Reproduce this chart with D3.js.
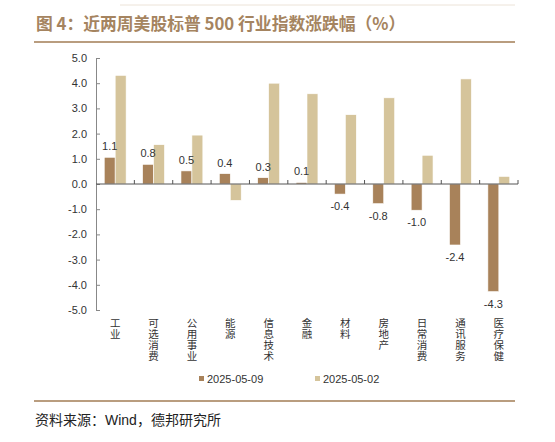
<!DOCTYPE html>
<html>
<head>
<meta charset="utf-8">
<script src="https://cdn.jsdelivr.net/npm/d3@7"></script>
<style>
  body { margin: 0; background: #fff; }
  svg { display: block; }
</style>
</head>
<body>
<div id="chart"></div>
<script>
// categories and values
var categories = ["工业", "可选消费", "公用事业", "能源", "信息技术", "金融", "材料", "房地产", "日常消费", "通讯服务", "医疗保健"];
var seriesNames = ["2025-05-09", "2025-05-02"];
var week0509 = [1.06, 0.78, 0.52, 0.41, 0.25, 0.06, -0.40, -0.78, -1.04, -2.42, -4.27];
var week0502 = [4.31, 1.56, 1.94, -0.65, 4.00, 3.58, 2.75, 3.42, 1.14, 4.17, 0.30];
var yTicks = [5, 4, 3, 2, 1, 0, -1, -2, -3, -4, -5];

var colors = ["#a8825a", "#d5c49b"];
var W = 555, H = 442;
var margin = { top: 58, left: 96, right: 37, bottom: 132 };

// hyphen instead of unicode minus, like the original
var fmt = function (v) { return d3.format(".1f")(v).replace("−", "-"); };

var svg = d3.select("#chart").append("svg")
    .attr("width", W)
    .attr("height", H);

// header
svg.append("text")
    .attr("x", 36).attr("y", 30)
    .attr("font-family", "Noto Sans CJK SC")
    .attr("font-weight", "bold")
    .attr("font-size", 16.8)
    .attr("fill", "#a58460")
    .text("图 4：近两周美股标普 500 行业指数涨跌幅（%）");

svg.append("line")
    .attr("x1", 120).attr("x2", 515).attr("y1", 5).attr("y2", 5)
    .attr("stroke", "#ece3d8").attr("stroke-width", 1);
svg.append("line")
    .attr("x1", 34).attr("x2", 515).attr("y1", 42).attr("y2", 42)
    .attr("stroke", "#a27c55").attr("stroke-width", 1.6);

var x = d3.scaleBand()
    .domain(categories)
    .range([margin.left, W - margin.right])
    .paddingInner(0.43)
    .paddingOuter(0.215);

var x1 = d3.scaleBand()
    .domain(seriesNames)
    .range([0, x.bandwidth()]);

var y = d3.scaleLinear()
    .domain([-5, 5])
    .range([H - margin.bottom, margin.top]);

// y axis
var yAxis = svg.append("g")
    .attr("transform", "translate(" + margin.left + ",0)")
    .call(d3.axisLeft(y).tickValues(yTicks).tickSize(-4).tickPadding(9)
        .tickFormat(fmt));
yAxis.select(".domain").attr("stroke", "#888");
yAxis.selectAll(".tick line").attr("stroke", "#888");
yAxis.selectAll("text")
    .attr("font-family", "Liberation Sans, Arial")
    .attr("font-size", 11)
    .attr("fill", "#333");

// bars
var rows = categories.map(function (c, i) {
    return { cat: c, vals: [week0509[i], week0502[i]] };
});

var groups = svg.append("g").selectAll("g")
    .data(rows)
    .join("g")
    .attr("transform", function (d) { return "translate(" + x(d.cat) + ",0)"; });

groups.selectAll("rect")
    .data(function (d) { return d.vals.map(function (v, j) { return { v: v, s: seriesNames[j], j: j }; }); })
    .join("rect")
    .attr("x", function (d) { return x1(d.s); })
    .attr("width", x1.bandwidth())
    .attr("y", function (d) { return y(Math.max(0, d.v)); })
    .attr("height", function (d) { return Math.abs(y(d.v) - y(0)); })
    .attr("fill", function (d) { return colors[d.j]; })
    .attr("stroke", "#fff")
    .attr("stroke-width", 0.6);

// labels on the 2025-05-09 series
groups.append("text")
    .attr("x", function (d) { return x1(seriesNames[0]) + x1.bandwidth() / 2; })
    .attr("y", function (d) { return d.vals[0] >= 0 ? y(d.vals[0]) - 7 : y(d.vals[0]) + 16; })
    .attr("text-anchor", "middle")
    .attr("font-family", "Liberation Sans, Arial")
    .attr("font-size", 11)
    .attr("fill", "#333")
    .text(function (d) { return fmt(d.vals[0]); });

// x axis on zero line, boundary ticks pointing up
svg.append("line")
    .attr("x1", margin.left).attr("x2", W - margin.right)
    .attr("y1", y(0)).attr("y2", y(0))
    .attr("stroke", "#555").attr("stroke-width", 1);

var bounds = categories.map(function (c) { return x(c) - x.step() * x.paddingInner() / 2; });
bounds.push(W - margin.right);
svg.append("g").selectAll("line")
    .data(bounds.slice(1))
    .join("line")
    .attr("x1", function (d) { return d; }).attr("x2", function (d) { return d; })
    .attr("y1", y(0)).attr("y2", y(0) - 4)
    .attr("stroke", "#555");

// vertical category labels
svg.append("g").selectAll("text")
    .data(categories)
    .join("text")
    .attr("x", function (d) { return x(d) + x.bandwidth() / 2; })
    .attr("y", 318)
    .attr("writing-mode", "vertical-rl")
    .attr("font-family", "Noto Sans CJK SC")
    .attr("font-size", 10.5)
    .attr("letter-spacing", 0.5)
    .attr("fill", "#333")
    .text(function (d) { return d; });

// legend
var legend = svg.append("g").selectAll("g")
    .data(seriesNames)
    .join("g")
    .attr("transform", function (d, i) { return "translate(" + (199 + i * 116) + ",376)"; });
legend.append("rect")
    .attr("width", 5).attr("height", 5)
    .attr("fill", function (d, i) { return colors[i]; });
legend.append("text")
    .attr("x", 8).attr("y", 7)
    .attr("font-family", "Liberation Sans, Arial")
    .attr("font-size", 11)
    .attr("fill", "#333")
    .text(function (d) { return d; });

// footer
svg.append("line")
    .attr("x1", 34).attr("x2", 515).attr("y1", 401).attr("y2", 401)
    .attr("stroke", "#a27c55").attr("stroke-width", 1.4);

var src = svg.append("text")
    .attr("x", 35).attr("y", 425)
    .attr("font-size", 14)
    .attr("fill", "#222");
src.append("tspan").attr("font-family", "Noto Sans CJK SC").text("资料来源：");
src.append("tspan").attr("font-family", "Liberation Sans, Arial").text("Wind");
src.append("tspan").attr("font-family", "Noto Sans CJK SC").text("，德邦研究所");
</script>
</body>
</html>
